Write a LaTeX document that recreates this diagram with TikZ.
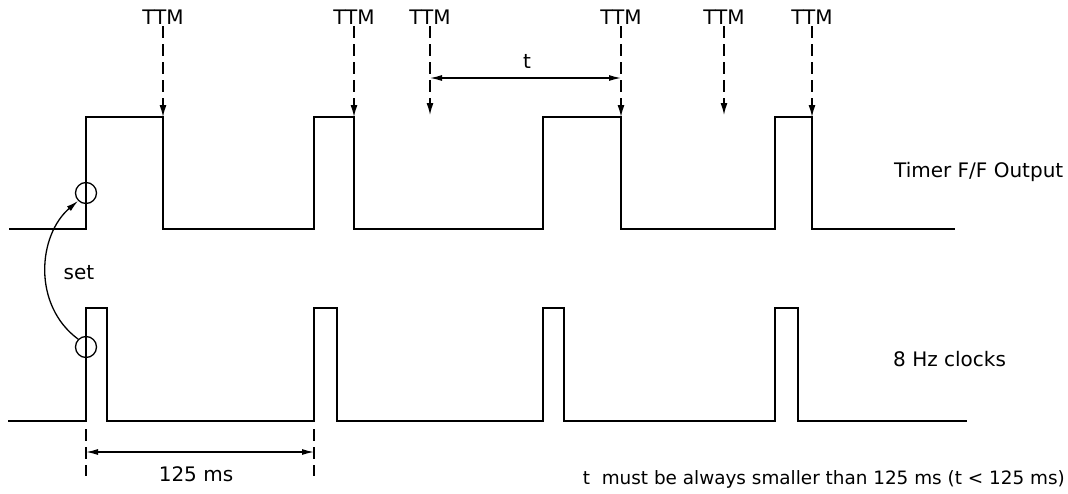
\documentclass[tikz,border=0pt]{standalone}
\usepackage{fontspec}
\setmainfont{DejaVu Sans}
\usetikzlibrary{arrows.meta}
\tikzset{
  wave/.style={line width=1.7pt, line join=miter},
  ttmarrow/.style={line width=1.4pt, dash pattern=on 12pt off 6pt, -{Latex[length=12pt,width=7pt]}},
  dimline/.style={line width=1.3pt, {Latex[length=12pt,width=6pt]}-{Latex[length=12pt,width=6pt]}},
  dimdash/.style={line width=1.3pt, dash pattern=on 12pt off 6pt},
  lbl/.style={font=\fontsize{20}{24}\selectfont, inner sep=2pt},
  smalllbl/.style={font=\fontsize{18.4}{22}\selectfont, inner sep=2pt},
  ring/.style={draw, circle, line width=1.3pt, minimum size=21pt, inner sep=0pt}
}
\begin{document}
\begin{tikzpicture}[x=1pt,y=-1pt]
\useasboundingbox (0,0) rectangle (1068,493);
% Timer F/F output waveform
\draw[wave] (9,229) -- (86,229) -- (86,117) -- (163,117) -- (163,229) -- (314,229) -- (314,117) -- (354,117) -- (354,229)
  -- (543,229) -- (543,117) -- (621,117) -- (621,229) -- (775,229) -- (775,117) -- (812,117) -- (812,229) -- (955,229);
% 8 Hz clock waveform
\draw[wave] (8,421) -- (86,421) -- (86,308) -- (107,308) -- (107,421) -- (314,421) -- (314,308) -- (337,308) -- (337,421)
  -- (543,421) -- (543,308) -- (564,308) -- (564,421) -- (775,421) -- (775,308) -- (798,308) -- (798,421) -- (967,421);
% TTM labels and arrows
\foreach \i/\x/\y in {1/163/117, 2/354/117, 3/430/115, 4/621/117, 5/724/115, 6/812/117} {
  \node[lbl, anchor=base] (ttm\i) at (\x,24) {TTM};
  \coordinate (c\i) at (\x,\y);
  \draw[ttmarrow] (ttm\i.south) -- (c\i);
}
% t dimension
\coordinate (ta) at (430,78);
\coordinate (tb) at (621,78);
\draw[dimline] (ta) -- (tb);
\node[lbl, anchor=base] (tlab) at (527,68) {t};
% labels
\node[lbl, anchor=base west] (timer) at (892,177) {Timer F/F Output};
\node[lbl, anchor=base west] (clk) at (891,366) {8 Hz clocks};
\node[smalllbl, anchor=base east] (note) at (1067,484) {t\ \ must be always smaller than 125 ms (t < 125 ms)};
% set circles and curve
\node[ring] (ctop) at (86,193) {};
\node[ring] (cbot) at (86,347) {};
\draw[line width=1.3pt, -{Latex[length=12pt,width=6pt]}] (cbot.135) .. controls (32,305) and (38,235) .. (ctop.225);
\node[lbl, anchor=base] (setlab) at (79,279) {set};
% 125 ms dimension
\coordinate (d1a) at (86,429);
\coordinate (d1b) at (86,476);
\coordinate (d2a) at (314,429);
\coordinate (d2b) at (314,476);
\draw[dimdash] (d1a) -- (d1b);
\draw[dimdash] (d2a) -- (d2b);
\coordinate (ma) at (86,452);
\coordinate (mb) at (314,452);
\draw[dimline] (ma) -- (mb);
\node[lbl, anchor=base] (mslab) at (196,481) {125 ms};
\end{tikzpicture}
\end{document}
